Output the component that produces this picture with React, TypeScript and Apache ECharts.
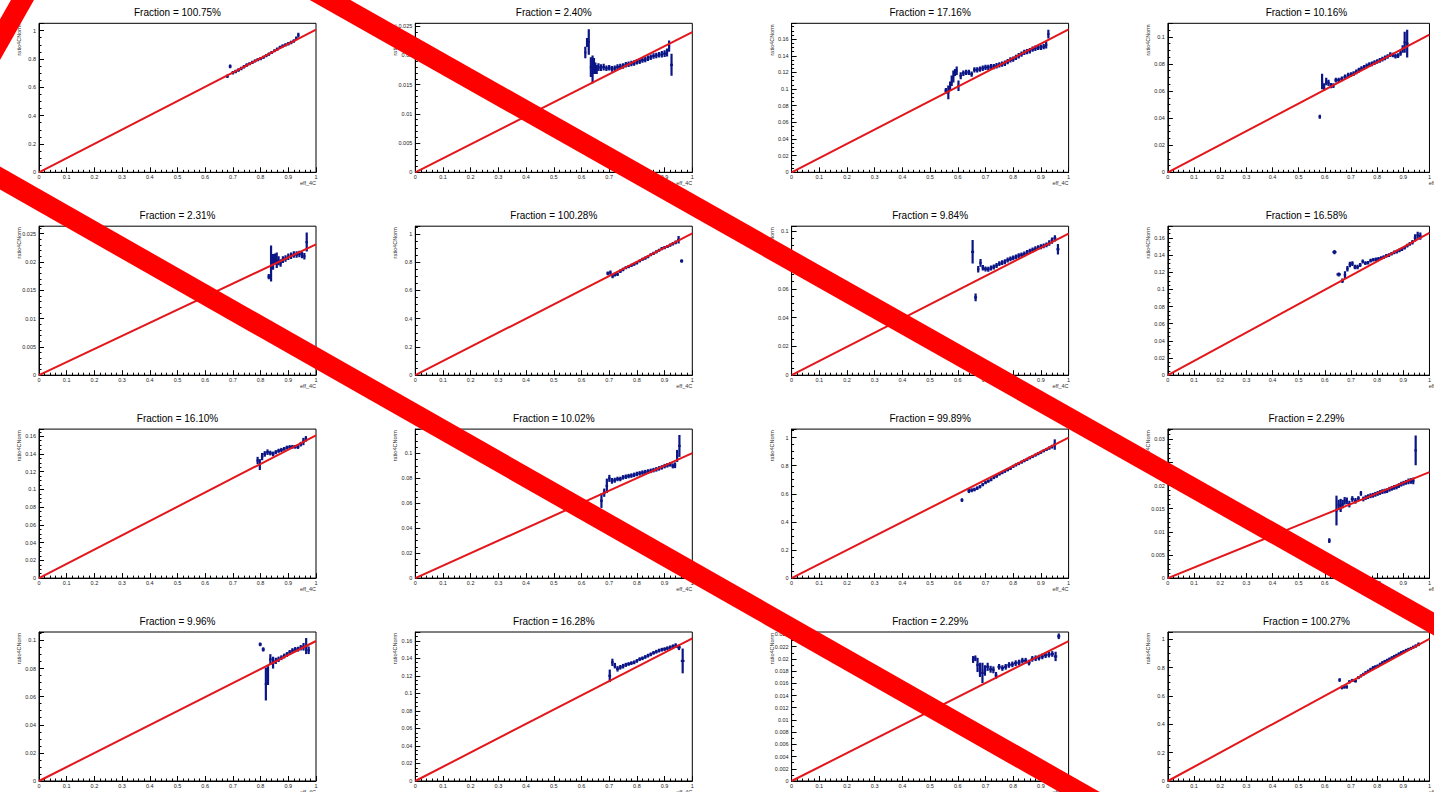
import React, { useEffect, useRef } from "react";
import * as echarts from "echarts";

const TITLES = [
  "Fraction = 100.75%", "Fraction = 2.40%", "Fraction = 17.16%", "Fraction = 10.16%",
  "Fraction = 2.31%", "Fraction = 100.28%", "Fraction = 9.84%", "Fraction = 16.58%",
  "Fraction = 16.10%", "Fraction = 10.02%", "Fraction = 99.89%", "Fraction = 2.29%",
  "Fraction = 9.96%", "Fraction = 16.28%", "Fraction = 2.29%", "Fraction = 100.27%",
];
const FRACTIONS = [1.0075, 0.024, 0.1716, 0.1016, 0.0231, 1.0028, 0.0984, 0.1658, 0.161, 0.1002, 0.9989, 0.0229, 0.0996, 0.1628, 0.0229, 1.0027];
const Y_MAX = [1.052, 0.0255, 0.179, 0.11, 0.0263, 1.054, 0.1035, 0.1736, 0.168, 0.1195, 1.06, 0.0322, 0.106, 0.17, 0.0244, 1.052];
const Y_STEP = [0.2, 0.005, 0.02, 0.02, 0.005, 0.2, 0.02, 0.02, 0.02, 0.02, 0.2, 0.005, 0.02, 0.02, 0.002, 0.2];
const Y_MINOR = [4, 5, 4, 4, 5, 4, 4, 4, 4, 4, 4, 5, 4, 4, 2, 4];
const X_NAME = "eff_4C";
const Y_NAME = "ratio4CNorm";

// [x, y, error]
const P1 = [[0.68,0.678,0.006],[0.69,0.748,0.006],[0.70,0.703,0.006],[0.71,0.712,0.005],[0.72,0.722,0.005],[0.73,0.733,0.005],[0.74,0.745,0.005],[0.75,0.757,0.005],[0.76,0.766,0.004],[0.77,0.776,0.004],[0.78,0.786,0.004],[0.79,0.795,0.004],[0.80,0.803,0.004],[0.81,0.812,0.004],[0.82,0.823,0.004],[0.83,0.834,0.004],[0.84,0.846,0.004],[0.85,0.858,0.004],[0.86,0.870,0.004],[0.87,0.882,0.004],[0.88,0.892,0.004],[0.89,0.900,0.004],[0.90,0.908,0.005],[0.91,0.917,0.005],[0.92,0.927,0.005],[0.93,0.945,0.006],[0.935,0.968,0.01]];
const P2 = [[0.615,0.0205,0.0008],[0.62,0.0222,0.0006],[0.625,0.0223,0.002],[0.635,0.0180,0.0015],[0.64,0.0176,0.0022],[0.645,0.0182,0.0012],[0.65,0.0178,0.0008],[0.655,0.0176,0.0006],[0.66,0.0180,0.0005],[0.67,0.0179,0.0004],[0.68,0.0180,0.0004],[0.69,0.0178,0.0003],[0.70,0.0179,0.0003],[0.71,0.0177,0.0003],[0.72,0.0178,0.0003],[0.73,0.0180,0.0003],[0.74,0.0181,0.0003],[0.75,0.0182,0.0003],[0.76,0.0184,0.0003],[0.77,0.0185,0.0003],[0.78,0.0186,0.0003],[0.79,0.0187,0.0003],[0.80,0.0189,0.0003],[0.81,0.0190,0.0003],[0.82,0.0192,0.0003],[0.83,0.0193,0.0003],[0.84,0.0195,0.0003],[0.85,0.0197,0.0003],[0.86,0.0199,0.0003],[0.87,0.0200,0.0003],[0.88,0.0201,0.0003],[0.89,0.0202,0.0004],[0.90,0.0203,0.0004],[0.91,0.0205,0.0005],[0.915,0.0216,0.0008],[0.925,0.0184,0.0017]];
const P3 = [[0.557,0.098,0.002],[0.567,0.096,0.007],[0.572,0.104,0.004],[0.578,0.110,0.005],[0.584,0.115,0.006],[0.59,0.120,0.003],[0.596,0.122,0.004],[0.602,0.104,0.005],[0.61,0.116,0.003],[0.62,0.119,0.002],[0.63,0.120,0.002],[0.64,0.120,0.002],[0.65,0.118,0.002],[0.66,0.123,0.002],[0.67,0.123,0.002],[0.68,0.124,0.002],[0.69,0.125,0.002],[0.70,0.126,0.002],[0.71,0.126,0.002],[0.72,0.127,0.002],[0.73,0.127,0.002],[0.74,0.128,0.002],[0.75,0.129,0.002],[0.76,0.130,0.002],[0.77,0.131,0.002],[0.78,0.133,0.002],[0.79,0.135,0.002],[0.80,0.136,0.002],[0.81,0.138,0.002],[0.82,0.140,0.002],[0.83,0.142,0.002],[0.84,0.144,0.002],[0.85,0.145,0.002],[0.86,0.146,0.002],[0.87,0.148,0.002],[0.88,0.149,0.002],[0.89,0.150,0.002],[0.90,0.150,0.002],[0.91,0.151,0.002],[0.92,0.153,0.003],[0.926,0.166,0.004]];
const P4 = [[0.581,0.041,0.0008],[0.59,0.067,0.005],[0.597,0.063,0.002],[0.605,0.067,0.002],[0.614,0.066,0.0015],[0.623,0.064,0.0012],[0.633,0.064,0.001],[0.641,0.068,0.001],[0.653,0.068,0.001],[0.665,0.069,0.001],[0.677,0.0705,0.001],[0.69,0.0717,0.001],[0.70,0.0722,0.001],[0.71,0.0728,0.001],[0.72,0.0742,0.001],[0.73,0.0755,0.001],[0.74,0.0765,0.001],[0.75,0.0775,0.001],[0.76,0.0785,0.001],[0.77,0.0795,0.001],[0.78,0.080,0.001],[0.79,0.081,0.001],[0.80,0.0818,0.001],[0.81,0.0826,0.001],[0.82,0.0835,0.001],[0.83,0.0845,0.001],[0.84,0.0855,0.001],[0.85,0.0868,0.001],[0.86,0.0866,0.001],[0.87,0.0858,0.001],[0.88,0.0862,0.001],[0.89,0.088,0.0012],[0.898,0.091,0.002],[0.904,0.096,0.007],[0.915,0.095,0.0095]];
const P5 = [[0.83,0.0174,0.0003],[0.838,0.0197,0.003],[0.845,0.0200,0.0012],[0.852,0.0205,0.0008],[0.858,0.0203,0.0012],[0.865,0.0202,0.0006],[0.872,0.0198,0.0005],[0.88,0.0204,0.0004],[0.89,0.0206,0.0004],[0.90,0.0209,0.0004],[0.91,0.0211,0.0004],[0.92,0.0213,0.0004],[0.93,0.0213,0.0004],[0.94,0.0214,0.0004],[0.95,0.0212,0.0004],[0.958,0.0210,0.0004],[0.966,0.0235,0.0015]];
const P6 = [[0.695,0.72,0.006],[0.705,0.725,0.008],[0.712,0.70,0.008],[0.72,0.712,0.006],[0.73,0.714,0.005],[0.74,0.735,0.005],[0.75,0.748,0.005],[0.76,0.760,0.004],[0.77,0.768,0.004],[0.78,0.777,0.004],[0.79,0.785,0.004],[0.80,0.795,0.004],[0.81,0.808,0.004],[0.82,0.820,0.004],[0.83,0.828,0.004],[0.84,0.838,0.004],[0.85,0.852,0.004],[0.86,0.862,0.004],[0.87,0.872,0.004],[0.88,0.884,0.004],[0.89,0.895,0.004],[0.90,0.902,0.004],[0.91,0.910,0.004],[0.92,0.920,0.004],[0.93,0.930,0.005],[0.94,0.940,0.006],[0.95,0.958,0.02],[0.962,0.808,0.005]];
const P7 = [[0.653,0.0857,0.0075],[0.665,0.054,0.002],[0.674,0.0736,0.0015],[0.682,0.078,0.002],[0.69,0.0747,0.0012],[0.70,0.0738,0.001],[0.71,0.0736,0.001],[0.72,0.0745,0.001],[0.73,0.0752,0.001],[0.74,0.0762,0.001],[0.75,0.0775,0.001],[0.76,0.0782,0.001],[0.77,0.0788,0.001],[0.78,0.0800,0.001],[0.79,0.0808,0.001],[0.80,0.0815,0.001],[0.81,0.0822,0.001],[0.82,0.0830,0.001],[0.83,0.0836,0.001],[0.84,0.0842,0.001],[0.85,0.0852,0.001],[0.86,0.0862,0.001],[0.87,0.0870,0.001],[0.88,0.0878,0.001],[0.89,0.0886,0.001],[0.90,0.0892,0.001],[0.91,0.0898,0.001],[0.92,0.0905,0.001],[0.93,0.0918,0.0012],[0.94,0.0935,0.0015],[0.95,0.0950,0.0015],[0.962,0.0875,0.003]];
const P8 = [[0.634,0.1434,0.0012],[0.655,0.1174,0.0012],[0.668,0.110,0.0015],[0.677,0.117,0.003],[0.686,0.124,0.002],[0.696,0.129,0.002],[0.705,0.130,0.0015],[0.715,0.126,0.0015],[0.725,0.126,0.0015],[0.735,0.1285,0.0012],[0.745,0.1325,0.0012],[0.755,0.1305,0.001],[0.765,0.131,0.001],[0.775,0.1335,0.001],[0.785,0.1345,0.001],[0.795,0.135,0.001],[0.805,0.1356,0.001],[0.815,0.1365,0.001],[0.825,0.1375,0.001],[0.835,0.139,0.001],[0.845,0.140,0.001],[0.855,0.1415,0.001],[0.865,0.143,0.001],[0.875,0.144,0.001],[0.885,0.1455,0.001],[0.895,0.147,0.001],[0.905,0.1485,0.001],[0.915,0.151,0.001],[0.925,0.153,0.001],[0.935,0.155,0.0015],[0.945,0.160,0.003],[0.955,0.163,0.003],[0.965,0.162,0.003]];
const P9 = [[0.79,0.1326,0.003],[0.797,0.128,0.005],[0.805,0.137,0.003],[0.815,0.140,0.002],[0.825,0.142,0.002],[0.835,0.141,0.0015],[0.845,0.140,0.0015],[0.855,0.142,0.0012],[0.865,0.1435,0.0012],[0.875,0.1445,0.0012],[0.885,0.1457,0.001],[0.895,0.1472,0.001],[0.905,0.1478,0.001],[0.915,0.148,0.001],[0.925,0.148,0.001],[0.935,0.1478,0.001],[0.945,0.151,0.0015],[0.955,0.154,0.003],[0.963,0.157,0.002]];
const P10 = [[0.672,0.0621,0.005],[0.682,0.0685,0.0025],[0.692,0.074,0.005],[0.70,0.080,0.002],[0.71,0.078,0.0015],[0.72,0.0785,0.0012],[0.73,0.0795,0.001],[0.74,0.0795,0.001],[0.75,0.0808,0.001],[0.76,0.0813,0.001],[0.77,0.0818,0.001],[0.78,0.0822,0.001],[0.79,0.0828,0.001],[0.80,0.0835,0.001],[0.81,0.0840,0.001],[0.82,0.0846,0.001],[0.83,0.0850,0.001],[0.84,0.0855,0.001],[0.85,0.0860,0.001],[0.86,0.0866,0.001],[0.87,0.0872,0.001],[0.88,0.0880,0.001],[0.89,0.0888,0.001],[0.90,0.0898,0.001],[0.91,0.0905,0.001],[0.92,0.0912,0.001],[0.93,0.0900,0.0012],[0.938,0.0905,0.0015],[0.945,0.098,0.004],[0.953,0.106,0.008]];
const P11 = [[0.615,0.555,0.006],[0.64,0.620,0.008],[0.65,0.625,0.007],[0.66,0.630,0.006],[0.67,0.640,0.006],[0.68,0.650,0.005],[0.69,0.665,0.005],[0.70,0.680,0.005],[0.71,0.690,0.005],[0.72,0.700,0.004],[0.73,0.715,0.004],[0.74,0.725,0.004],[0.75,0.740,0.004],[0.76,0.750,0.004],[0.77,0.760,0.004],[0.78,0.770,0.004],[0.79,0.780,0.004],[0.80,0.795,0.004],[0.81,0.805,0.004],[0.82,0.815,0.004],[0.83,0.825,0.004],[0.84,0.835,0.004],[0.85,0.845,0.004],[0.86,0.855,0.004],[0.87,0.865,0.004],[0.88,0.875,0.004],[0.89,0.885,0.004],[0.90,0.895,0.004],[0.91,0.905,0.004],[0.92,0.915,0.004],[0.93,0.925,0.005],[0.94,0.935,0.006],[0.95,0.950,0.03]];
const P12 = [[0.617,0.0081,0.0003],[0.645,0.0146,0.003],[0.653,0.0158,0.0009],[0.66,0.0157,0.0012],[0.669,0.0160,0.0007],[0.675,0.0167,0.0006],[0.684,0.0167,0.0005],[0.693,0.0160,0.0005],[0.705,0.0171,0.0004],[0.717,0.0167,0.0004],[0.729,0.0172,0.0003],[0.738,0.0183,0.0003],[0.747,0.0171,0.0003],[0.756,0.0174,0.0003],[0.765,0.0176,0.0003],[0.775,0.0178,0.0003],[0.784,0.0179,0.0003],[0.793,0.0181,0.0003],[0.802,0.0183,0.0003],[0.811,0.0185,0.0003],[0.82,0.0187,0.0003],[0.829,0.0188,0.0003],[0.838,0.0189,0.0003],[0.847,0.0192,0.0003],[0.856,0.0194,0.0003],[0.865,0.0196,0.0003],[0.874,0.0197,0.0003],[0.883,0.0200,0.0003],[0.892,0.0203,0.0003],[0.901,0.0205,0.0003],[0.91,0.0207,0.0003],[0.92,0.0209,0.0004],[0.929,0.0210,0.0004],[0.938,0.0210,0.0005],[0.947,0.0276,0.003]];
const P13 = [[0.798,0.0972,0.0006],[0.81,0.0936,0.0008],[0.82,0.069,0.011],[0.826,0.075,0.006],[0.835,0.0865,0.003],[0.845,0.0842,0.0035],[0.855,0.0855,0.0015],[0.865,0.0866,0.0012],[0.875,0.0877,0.001],[0.885,0.0889,0.001],[0.895,0.0900,0.001],[0.905,0.0915,0.001],[0.915,0.0928,0.001],[0.925,0.0936,0.001],[0.935,0.0938,0.001],[0.945,0.0948,0.0012],[0.955,0.0955,0.002],[0.965,0.0960,0.005],[0.973,0.093,0.002]];
const P14 = [[0.702,0.120,0.006],[0.712,0.1354,0.003],[0.72,0.1316,0.002],[0.73,0.128,0.002],[0.74,0.1297,0.0015],[0.75,0.1310,0.0015],[0.76,0.1325,0.0012],[0.77,0.1335,0.001],[0.78,0.1345,0.001],[0.79,0.1354,0.001],[0.80,0.137,0.001],[0.81,0.139,0.001],[0.82,0.140,0.001],[0.83,0.1415,0.001],[0.84,0.143,0.001],[0.85,0.1445,0.001],[0.86,0.1462,0.001],[0.87,0.1475,0.001],[0.88,0.1488,0.001],[0.89,0.1498,0.001],[0.90,0.1505,0.001],[0.91,0.1515,0.001],[0.92,0.1525,0.001],[0.93,0.1535,0.0012],[0.94,0.1545,0.0015],[0.95,0.1525,0.002],[0.967,0.137,0.013]];
const P15 = [[0.656,0.0199,0.0004],[0.663,0.0201,0.0003],[0.671,0.0190,0.001],[0.68,0.0182,0.001],[0.689,0.0177,0.0015],[0.698,0.0181,0.0007],[0.707,0.0187,0.0005],[0.719,0.0183,0.0004],[0.729,0.0182,0.0004],[0.737,0.0173,0.0004],[0.749,0.0187,0.0003],[0.761,0.0185,0.0003],[0.773,0.0187,0.0003],[0.785,0.0190,0.0003],[0.797,0.0191,0.0003],[0.809,0.0193,0.0003],[0.821,0.0194,0.0003],[0.833,0.0197,0.0003],[0.845,0.0197,0.0003],[0.857,0.0194,0.0003],[0.869,0.0200,0.0003],[0.881,0.0201,0.0003],[0.893,0.0202,0.0003],[0.905,0.0204,0.0003],[0.917,0.0206,0.0003],[0.929,0.0207,0.0003],[0.941,0.0208,0.0003],[0.953,0.0204,0.0006],[0.965,0.0237,0.0003]];
const P16 = [[0.657,0.713,0.006],[0.665,0.660,0.006],[0.675,0.664,0.005],[0.684,0.664,0.005],[0.693,0.700,0.005],[0.705,0.710,0.004],[0.717,0.706,0.004],[0.729,0.730,0.004],[0.738,0.742,0.004],[0.747,0.753,0.004],[0.756,0.765,0.004],[0.765,0.776,0.004],[0.775,0.788,0.004],[0.784,0.800,0.004],[0.793,0.806,0.004],[0.802,0.812,0.004],[0.811,0.824,0.004],[0.82,0.835,0.004],[0.829,0.844,0.004],[0.838,0.852,0.004],[0.847,0.861,0.004],[0.856,0.870,0.004],[0.865,0.879,0.004],[0.874,0.887,0.004],[0.883,0.897,0.004],[0.892,0.906,0.004],[0.901,0.914,0.004],[0.91,0.922,0.004],[0.92,0.929,0.004],[0.929,0.936,0.004],[0.938,0.945,0.004],[0.947,0.953,0.005],[0.959,0.965,0.006]];
const PANELS = [P1, P2, P3, P4, P5, P6, P7, P8, P9, P10, P11, P12, P13, P14, P15, P16];

const FONT = "Liberation Sans, Arial, Helvetica, sans-serif";
const NAVY = "#0b1585";
const FIT_RED = "#e3161b";

const fmt = (v: number) => String(parseFloat(v.toFixed(5)));

function toBins(pts: number[][]) {
  return pts.map((p, i) => {
    const prev = pts[i - 1];
    const next = pts[i + 1];
    const x0 = prev && p[0] - prev[0] < 0.025 ? (p[0] + prev[0]) / 2 : p[0] - 0.005;
    const x1 = next && next[0] - p[0] < 0.025 ? (p[0] + next[0]) / 2 : p[0] + 0.005;
    return [x0, x1, p[1], p[2]];
  });
}

export default function App() {
  const ref = useRef<HTMLDivElement>(null);
  useEffect(() => {
    if (!ref.current) return;
    const chart = echarts.init(ref.current, undefined, { renderer: "svg" });
    const W = 277, H = 149;
    const grids: any[] = [], xAxes: any[] = [], yAxes: any[] = [], series: any[] = [], graphics: any[] = [];
    for (let i = 0; i < 16; i++) {
      const r = Math.floor(i / 4), c = i % 4;
      const L = 39 + 376.3 * c;
      const T = 23.3 + 202.9 * r;
      grids.push({ left: L, top: T, width: W, height: H, show: true, borderColor: "#000", borderWidth: 1, backgroundColor: "transparent" });
      const common = {
        gridIndex: i,
        type: "value",
        axisLine: { show: true, onZero: false, lineStyle: { color: "#000", width: 1 } },
        axisTick: { show: true, inside: true, length: 5, lineStyle: { color: "#000", width: 1 } },
        splitLine: { show: false },
      };
      xAxes.push({
        ...common,
        min: 0, max: 1, interval: 0.1,
        minorTick: { show: true, splitNumber: 5, length: 2.5, lineStyle: { color: "#000", width: 1 } },
        axisLabel: { fontSize: 5.5, color: "#222", margin: 2, fontFamily: FONT, formatter: (v: number) => fmt(v) },
      });
      const step = Y_STEP[i];
      yAxes.push({
        ...common,
        min: 0, max: Y_MAX[i], interval: step,
        minorTick: { show: true, splitNumber: Y_MINOR[i], length: 2.5, lineStyle: { color: "#000", width: 1 } },
        axisLabel: {
          fontSize: 5.5, color: "#222", margin: 3, fontFamily: FONT,
          formatter: (v: number) => (Math.abs(v / step - Math.round(v / step)) < 1e-6 ? fmt(v) : ""),
        },
      });
      series.push({
        type: "custom",
        xAxisIndex: i, yAxisIndex: i,
        clip: true,
        z: 2,
        encode: { x: [0, 1], y: [2] },
        data: toBins(PANELS[i]),
        renderItem: (params: any, api: any) => {
          const x0 = api.value(0), x1 = api.value(1), y = api.value(2), e = api.value(3);
          const pL = api.coord([x0, y]);
          const pR = api.coord([x1, y]);
          const xm = (x0 + x1) / 2;
          const pT = api.coord([xm, y + e]);
          const pB = api.coord([xm, y - e]);
          return {
            type: "group",
            children: [
              { type: "line", shape: { x1: pL[0], y1: pL[1], x2: pR[0], y2: pR[1] }, style: { stroke: NAVY, lineWidth: 2.2 } },
              { type: "line", shape: { x1: pT[0], y1: pT[1] - 1, x2: pB[0], y2: pB[1] + 1 }, style: { stroke: NAVY, lineWidth: 2.2 } },
            ],
          };
        },
      });
      series.push({
        type: "line",
        xAxisIndex: i, yAxisIndex: i,
        z: 3,
        symbol: "none",
        silent: true,
        data: [[0, 0], [1, FRACTIONS[i]]],
        lineStyle: { color: FIT_RED, width: 2 },
      });
      graphics.push({
        type: "text", x: L + W / 2, y: 12.5 + 202.9 * r, z: 10,
        style: { text: TITLES[i], font: `10px ${FONT}`, fill: "#000", textAlign: "center", textVerticalAlign: "middle" },
      });
      graphics.push({
        type: "text", x: L - 20, y: T + 1, rotation: Math.PI / 2, z: 10,
        style: { text: Y_NAME, font: `5.5px ${FONT}`, fill: "#333", textAlign: "right", textVerticalAlign: "middle" },
      });
      graphics.push({
        type: "text", x: L + W, y: T + H + 10.5, z: 10,
        style: { text: X_NAME, font: `5.5px ${FONT}`, fill: "#333", textAlign: "right", textVerticalAlign: "middle" },
      });
    }
    // big red cross overlay
    const overlay = [
      [300, -17, 1480, 650],
      [-30, 161, 1120, 815],
      [-20, 75, 40, -31],
    ];
    overlay.forEach((s) => {
      graphics.push({
        type: "line", z: 100,
        shape: { x1: s[0], y1: s[1], x2: s[2], y2: s[3] },
        style: { stroke: "#ff0000", lineWidth: 20 },
      });
    });
    chart.setOption({
      animation: false,
      backgroundColor: "#fff",
      grid: grids,
      xAxis: xAxes,
      yAxis: yAxes,
      series,
      graphic: graphics,
    });
    return () => chart.dispose();
  }, []);
  return <div ref={ref} style={{ position: "fixed", left: 0, top: 0, width: 1434, height: 792 }} />;
}
